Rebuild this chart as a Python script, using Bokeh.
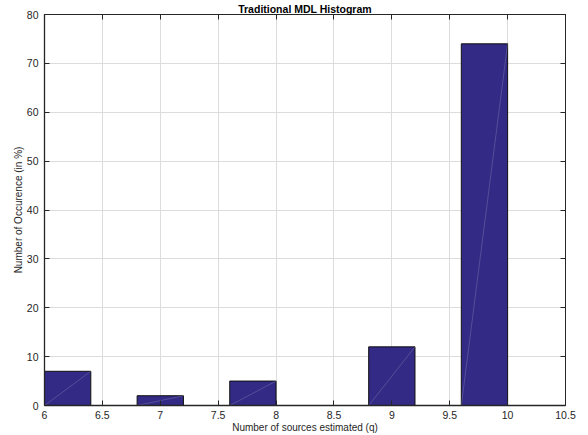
from bokeh.plotting import figure
from bokeh.models import Range1d, LinearAxis, FixedTicker, ColumnDataSource
from bokeh.embed import file_html
from bokeh.resources import INLINE

# Data
bin_edges = [6.0, 6.4, 6.8, 7.2, 7.6, 8.0, 8.4, 8.8, 9.2, 9.6, 10.0]
counts = [7, 0, 2, 0, 5, 0, 0, 12, 0, 74]
x_ticks = [6, 6.5, 7, 7.5, 8, 8.5, 9, 9.5, 10, 10.5]
x_tick_labels = ["6", "6.5", "7", "7.5", "8", "8.5", "9", "9.5", "10", "10.5"]
y_ticks = [0, 10, 20, 30, 40, 50, 60, 70, 80]
title_text = "Traditional MDL Histogram"
x_label = "Number of sources estimated (q)"
y_label = "Number of Occurence (in %)"

FONT = "Liberation Sans"
DARK = "#262626"
BAR = "#322a84"

p = figure(width=588, height=435, output_backend="svg", toolbar_location=None,
           x_range=Range1d(6, 10.5), y_range=Range1d(0, 80),
           min_border_left=44, min_border_right=23, min_border_top=0, min_border_bottom=29)
p.background_fill_color = "white"
p.border_fill_color = "white"
p.outline_line_color = DARK
p.outline_line_width = 1

p.title.text = title_text
p.title.align = "center"
p.title.text_font = FONT
p.title.text_font_size = "10.5px"
p.title.text_font_style = "bold"
p.title.text_color = "black"
p.title.standoff = 0
p.title.offset = 0

lefts = bin_edges[:-1]
rights = bin_edges[1:]
src = ColumnDataSource(dict(left=lefts, right=rights, top=counts, bottom=[0] * len(counts)))
p.quad(left="left", right="right", top="top", bottom="bottom", source=src,
       fill_color=BAR, line_color="#111111", line_width=1)

nz = [i for i, c in enumerate(counts) if c > 0]
diag = ColumnDataSource(dict(x0=[lefts[i] for i in nz], y0=[0] * len(nz),
                             x1=[rights[i] for i in nz], y1=[counts[i] for i in nz]))
p.segment(x0="x0", y0="y0", x1="x1", y1="y1", source=diag, line_color="white",
          line_width=0.5, line_alpha=0.35)

# grid
p.xgrid.ticker = FixedTicker(ticks=x_ticks)
p.ygrid.ticker = FixedTicker(ticks=y_ticks)
for g in (p.xgrid, p.ygrid):
    g.grid_line_color = "#dcdcdc"
    g.grid_line_width = 1

# axes
xa = p.xaxis[0]
xa.ticker = FixedTicker(ticks=x_ticks)
xa.major_label_overrides = {t: l for t, l in zip(x_ticks, x_tick_labels)}
ya = p.yaxis[0]
ya.ticker = FixedTicker(ticks=y_ticks)
for ax in (xa, ya):
    ax.major_tick_in = 5
    ax.major_tick_out = 0
    ax.minor_tick_in = 0
    ax.minor_tick_out = 0
    ax.axis_line_color = DARK
    ax.axis_line_width = 1.3
    ax.major_tick_line_color = DARK
    ax.major_label_text_font = FONT
    ax.major_label_text_font_size = "10.5px"
    ax.major_label_text_color = DARK
    ax.axis_label_text_font = FONT
    ax.axis_label_text_font_size = "10px"
    ax.axis_label_text_font_style = "normal"
    ax.axis_label_text_color = DARK
xa.axis_label = x_label
ya.axis_label = y_label
xa.major_label_standoff = 5
xa.axis_label_standoff = 0
ya.major_label_standoff = 6
ya.axis_label_standoff = 0

# top / right box axes with ticks only (no labels)
top = LinearAxis(ticker=FixedTicker(ticks=x_ticks),
                 major_label_overrides={t: "" for t in x_ticks},
                 major_label_standoff=0, major_tick_in=5, major_tick_out=0,
                 minor_tick_in=0, minor_tick_out=0, axis_line_color=DARK,
                 major_tick_line_color=DARK)
right = LinearAxis(ticker=FixedTicker(ticks=y_ticks),
                   major_label_overrides={t: "" for t in y_ticks},
                   major_label_standoff=0, major_tick_in=5, major_tick_out=0,
                   minor_tick_in=0, minor_tick_out=0, axis_line_color=DARK,
                   major_tick_line_color=DARK)
p.add_layout(top, "above")
p.add_layout(right, "right")

open("out.html", "w").write(file_html(p, INLINE))
